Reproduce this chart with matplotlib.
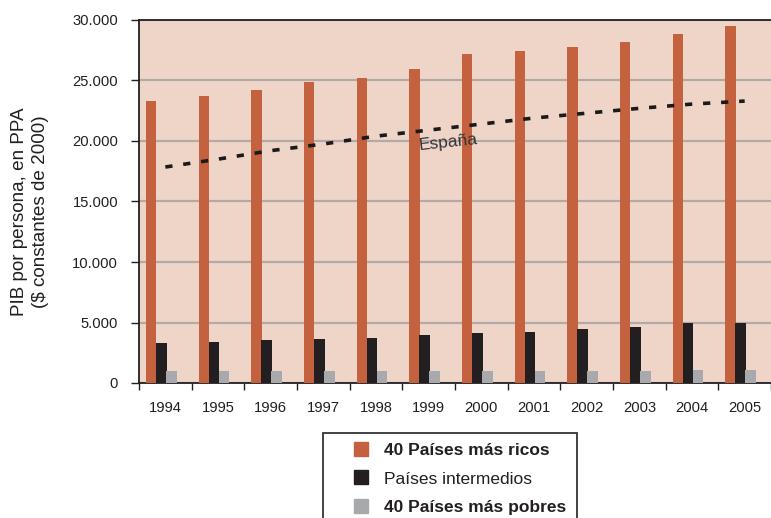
import matplotlib
matplotlib.use("Agg")
import matplotlib.pyplot as plt
import numpy as np
from matplotlib.lines import Line2D
from matplotlib.patches import Rectangle

plt.rcParams['font.family'] = ['Liberation Sans', 'DejaVu Sans']

years = ['1994', '1995', '1996', '1997', '1998', '1999', '2000', '2001', '2002', '2003', '2004', '2005']
ricos = [23300, 23700, 24200, 24900, 25200, 25950, 27200, 27450, 27800, 28150, 28850, 29500]
intermedios = [3300, 3400, 3550, 3650, 3750, 3950, 4150, 4250, 4450, 4650, 4950, 4950]
pobres = [1000, 1000, 1000, 1000, 1000, 1000, 1000, 1000, 1000, 1000, 1100, 1100]
espana = [17850, 18500, 19200, 19750, 20400, 20900, 21400, 21900, 22300, 22700, 23050, 23300]
yticks = [0, 5000, 10000, 15000, 20000, 25000, 30000]
ytick_labels = ['0', '5.000', '10.000', '15.000', '20.000', '25.000', '30.000']
legend_labels = ['40 Países más ricos', 'Países intermedios', '40 Países más pobres']

c_ricos = '#C4623F'
c_inter = '#231F20'
c_pobres = '#A7A9AC'
bg = '#EFD5C8'

fig = plt.figure(figsize=(7.71, 5.18), dpi=100)
ax = fig.add_axes([139/771, 135/518, 632/771, 363/518])
ax.set_facecolor(bg)

x = np.arange(len(years))
w = 0.2
ax.bar(x - 0.27, ricos, w, color=c_ricos, zorder=3)
ax.bar(x - 0.075, intermedios, w, color=c_inter, zorder=3)
ax.bar(x + 0.115, pobres, w, color=c_pobres, zorder=3)
ax.plot(x, espana, color='#1a1a1a', lw=2.6, linestyle=(0, (2.0, 3.0)), zorder=4)

ax.text(5.37, 19900, 'España', rotation=6, fontsize=12.5, color='#333333',
        ha='center', va='center', zorder=5)

ax.set_xlim(-0.5, 11.5)
ax.set_ylim(0, 30000)
ax.set_yticks(yticks)
ax.set_yticklabels(ytick_labels, fontsize=10.6, color='#231F20')
ax.set_xticks(x)
ax.set_xticklabels(years, fontsize=10.6, color='#231F20')
ax.set_xticks(np.arange(-0.5, 12, 1), minor=True)
ax.tick_params(axis='x', which='major', length=0, pad=13)
ax.tick_params(axis='x', which='minor', length=5, width=1, color='#231F20', direction='out')
ax.tick_params(axis='y', length=6, width=1, color='#231F20', direction='out', pad=9)

ax.yaxis.grid(True, color='#B3AAA8', lw=1.6, zorder=1)
ax.set_axisbelow(True)
ax.spines['right'].set_visible(False)
for s in ['left', 'bottom', 'top']:
    ax.spines[s].set_color('#231F20')
    ax.spines[s].set_linewidth(1.3)

fig.text(30/771, 1 - 212/518, 'PIB por persona, en PPA\n($ constantes de 2000)',
         rotation=90, fontsize=13.6, color='#231F20', linespacing=1.3,
         ha='center', va='center', multialignment='center')

# legend frame (bottom runs past the figure edge, as in the reference)
fig.patches.append(Rectangle((323/771, -10/518), (577-323)/771, (518-433+10)/518,
                             transform=fig.transFigure, fill=False,
                             edgecolor='#333333', lw=1.3))

handles = [Line2D([], [], marker='s', linestyle='none', markersize=9.5, color=c)
           for c in (c_ricos, c_inter, c_pobres)]
leg = fig.legend(handles, legend_labels, loc='upper left',
                 bbox_to_anchor=(348/771, 1 - 443/518), fontsize=12.5,
                 frameon=False, borderpad=0, labelspacing=0.76,
                 handletextpad=0.55, borderaxespad=0, handlelength=1.5)
for i, t in enumerate(leg.get_texts()):
    t.set_color('#231F20')
    if i != 1:
        t.set_fontweight('bold')

fig.savefig('out.png', dpi=100)
